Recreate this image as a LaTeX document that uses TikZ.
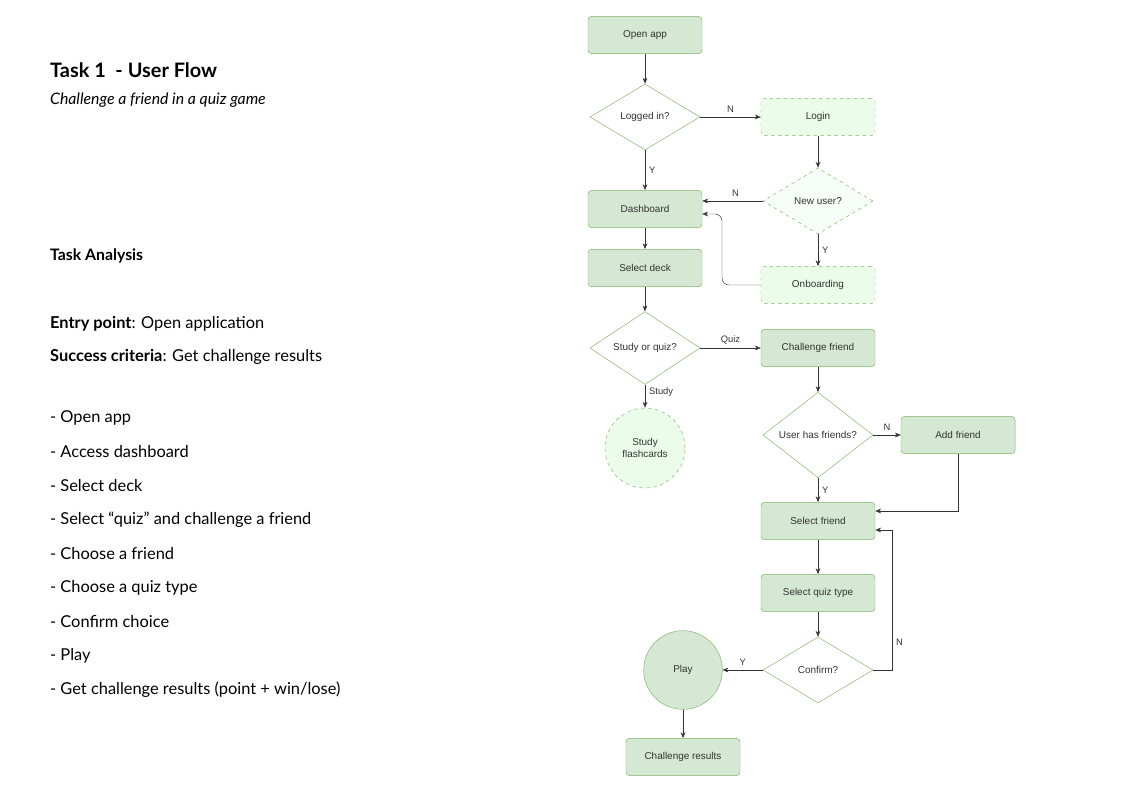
\documentclass[tikz,border=0pt]{standalone}
\usepackage{fontspec}
\setmainfont{Liberation Sans}
\newfontfamily\notefont{Lato}
\usetikzlibrary{shapes.geometric,arrows.meta}
\definecolor{boxfill}{HTML}{D5E8D4}
\definecolor{boxline}{HTML}{82B366}
\definecolor{lightfill}{HTML}{EBFCEA}
\definecolor{txt}{HTML}{333333}
\begin{document}
\begin{tikzpicture}
        [x=0.03cm,y=-0.03cm,
         stepbox/.style={draw=boxline, fill=boxfill, rounded corners=3pt, minimum width=3.42cm, minimum height=1.12cm, font=\fontsize{8.5}{10}\selectfont, text=txt},
         optbox/.style={stepbox, dashed, fill=lightfill},
         choice/.style={draw=boxline, fill=white, diamond, inner sep=0pt, minimum width=3.3cm, minimum height=1.98cm, font=\fontsize{8.5}{10}\selectfont, text=txt},
         bubble/.style={draw=boxline, fill=boxfill, circle, minimum size=2.36cm, font=\fontsize{8.5}{10}\selectfont, text=txt, align=center},
         flow/.style={->, >={Stealth[length=5pt,width=4pt]}, black!80},
         tag/.style={font=\fontsize{8}{10}\selectfont, text=txt},
         note/.style={anchor=west, font=\notefont\fontsize{14}{16}\selectfont}]
        \useasboundingbox (0,0) rectangle (1121,793);
        % left column
        \node[note, font=\notefont\bfseries\fontsize{17}{20}\selectfont] (title) at (46,70) {Task 1\ \ - User Flow};
        \node[note, font=\notefont\itshape\fontsize{13.5}{16}\selectfont] (sub) at (46,100) {Challenge a friend in a quiz game};
        \node[note, font=\notefont\bfseries\fontsize{13.5}{16}\selectfont] (ta) at (46,256) {Task Analysis};
        \node[note] (entry) at (46,324) {\textbf{Entry point}: Open application};
        \node[note] (succ) at (46,357) {\textbf{Success criteria}: Get challenge results};
        \foreach \t [count=\i from 0] in {Open app, Access dashboard, Select deck,
            Select “quiz” and challenge a friend, Choose a friend, Choose a quiz type,
            Confirm choice, Play, Get challenge results (point + win/lose)}
          \node[note] (item\i) at (46,418+34*\i) {- \t};
        % flow chart
        \node[stepbox] (open) at (645,35) {Open app};
        \node[choice] (logged) at (645,117) {Logged in?};
        \node[optbox] (login) at (818,117) {Login};
        \node[stepbox] (dash) at (645,209) {Dashboard};
        \node[choice, dashed, fill=lightfill!40] (newuser) at (818,201) {New user?};
        \node[stepbox] (deck) at (645,268) {Select deck};
        \node[optbox] (onboard) at (818,285) {Onboarding};
        \node[choice] (study) at (645,348) {Study or quiz?};
        \node[stepbox] (challenge) at (818,348) {Challenge friend};
        \node[bubble, dashed, fill=lightfill, minimum size=2.4cm] (cards) at (645,448) {Study\\flashcards};
        \node[choice] (hasfr) at (818,435) {User has friends?};
        \node[stepbox] (addfr) at (958,435) {Add friend};
        \node[stepbox] (selfr) at (818,521) {Select friend};
        \node[stepbox] (quiztype) at (818,593) {Select quiz type};
        \node[choice] (confirm) at (818,670) {Confirm?};
        \node[bubble] (play) at (683,670) {Play};
        \node[stepbox] (results) at (683,757) {Challenge results};
        \draw[flow] (open) -- (logged);
        \draw[flow] (logged) -- node[tag, above] {N} (login);
        \draw[flow] (logged) -- node[tag, right] {Y} (dash);
        \draw[flow] (login) -- (newuser);
        \draw[flow] (newuser.west) -- node[tag, above, pos=0.45] {N} (dash.east |- newuser.west);
        \draw[flow] (newuser) -- node[tag, right] {Y} (onboard);
        \draw[flow, rounded corners=6pt] (onboard.west) -| (722,214) -- (dash.east |- 0,214);
        \draw[flow] (dash) -- (deck);
        \draw[flow] (deck) -- (study);
        \draw[flow] (study) -- node[tag, above] {Quiz} (challenge);
        \draw[flow] (study) -- node[tag, right, pos=0.3] {Study} (cards);
        \draw[flow] (challenge) -- (hasfr);
        \draw[flow] (hasfr) -- node[tag, above] {N} (addfr);
        \draw[flow] (hasfr) -- node[tag, right] {Y} (selfr);
        \draw[flow] (addfr.south) |- (selfr.east |- 0,511);
        \draw[flow] (selfr) -- (quiztype);
        \draw[flow] (quiztype) -- (confirm);
        \draw[flow] (confirm.east) -| node[tag, right, pos=0.6] {N} (892,530) -- (selfr.east |- 0,530);
        \draw[flow] (confirm) -- node[tag, above] {Y} (play);
        \draw[flow] (play) -- (results);
\end{tikzpicture}
\end{document}
